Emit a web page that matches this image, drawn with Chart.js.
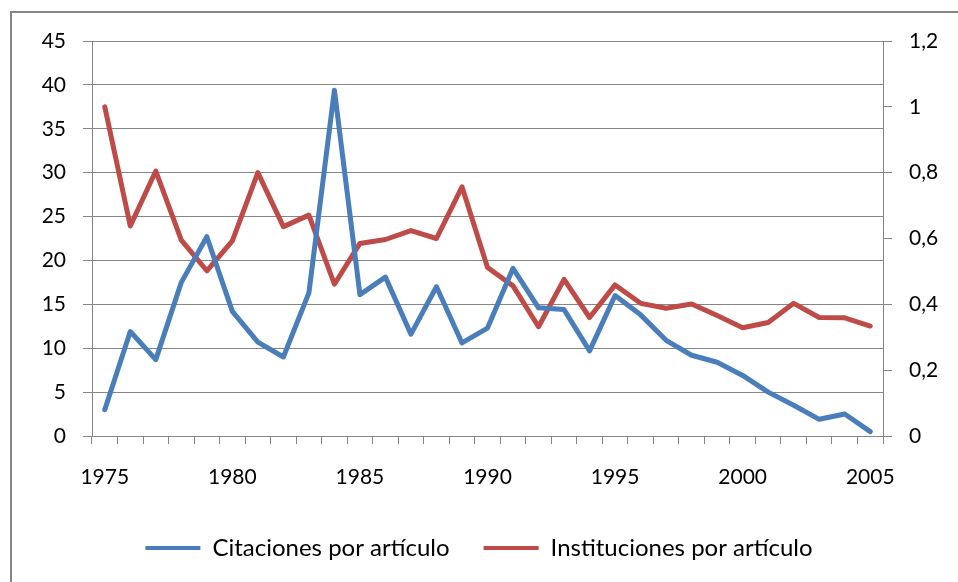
<!DOCTYPE html>
<html>
<head>
<meta charset="utf-8">
<script src="https://cdn.jsdelivr.net/npm/chart.js@4.4.1/dist/chart.umd.min.js"></script>
<style>
  html, body { margin: 0; padding: 0; background: #fff; }
  #wrap { width: 958px; height: 582px; }
</style>
</head>
<body>
<div id="wrap"><canvas id="chart" width="958" height="582"></canvas></div>
<script>
  // ---- DATA ----
  const years = [1975, 1976, 1977, 1978, 1979, 1980, 1981, 1982, 1983, 1984,
                 1985, 1986, 1987, 1988, 1989, 1990, 1991, 1992, 1993, 1994,
                 1995, 1996, 1997, 1998, 1999, 2000, 2001, 2002, 2003, 2004, 2005];
  const citaciones = [3.0, 11.9, 8.7, 17.5, 22.7, 14.2, 10.7, 9.0, 16.3, 39.4,
                      16.1, 18.1, 11.6, 17.0, 10.6, 12.3, 19.1, 14.6, 14.4, 9.7,
                      16.0, 13.8, 10.9, 9.2, 8.4, 6.9, 5.0, 3.5, 1.9, 2.5, 0.5];
  const instituciones = [1.0, 0.638, 0.805, 0.595, 0.502, 0.593, 0.80, 0.636, 0.671, 0.461,
                         0.585, 0.597, 0.624, 0.60, 0.757, 0.512, 0.456, 0.332, 0.476, 0.36,
                         0.459, 0.403, 0.388, 0.401, 0.366, 0.329, 0.345, 0.403, 0.36, 0.359, 0.334];
  const leftTicks = { min: 0, max: 45, step: 5 };
  const rightTicks = { min: 0, max: 1.2, step: 0.2 };

  const BLUE = '#4A7EBB';
  const RED = '#BE4B48';
  const GRID = '#868686';
  const FONT = { family: 'Lato, "Open Sans", sans-serif', size: 21 };
  const LEGEND_FONT = { family: 'Lato, "Open Sans", sans-serif', size: 24 };

  // outer frame (left + top edge only, like the source)
  const framePlugin = {
    id: 'frame',
    afterDraw(chart) {
      const c = chart.ctx;
      c.save();
      c.strokeStyle = GRID;
      c.lineWidth = 2;
      c.beginPath();
      c.moveTo(11, 582);
      c.lineTo(11, 12);
      c.lineTo(958, 12);
      c.stroke();
      c.restore();
    }
  };

  const ctx = document.getElementById('chart').getContext('2d');
  new Chart(ctx, {
    type: 'line',
    data: {
      labels: years,
      datasets: [{
        label: 'Citaciones por artículo',
        data: citaciones,
        yAxisID: 'y',
        borderColor: BLUE,
        backgroundColor: BLUE,
        borderWidth: 5,
        borderJoinStyle: 'round',
        borderCapStyle: 'round',
        pointRadius: 0,
        tension: 0
      }, {
        label: 'Instituciones por artículo',
        data: instituciones,
        yAxisID: 'y2',
        borderColor: RED,
        backgroundColor: RED,
        borderWidth: 5,
        borderJoinStyle: 'round',
        borderCapStyle: 'round',
        pointRadius: 0,
        tension: 0
      }]
    },
    options: {
      responsive: false,
      animation: false,
      layout: { padding: { top: 41, left: 0, right: 0, bottom: 12 } },
      plugins: {
        tooltip: { enabled: false },
        legend: {
          position: 'bottom',
          labels: {
            color: '#000',
            font: LEGEND_FONT,
            boxWidth: 55,
            boxHeight: 4,
            padding: 34,
            generateLabels(chart) {
              return Chart.defaults.plugins.legend.labels.generateLabels(chart)
                .map(l => Object.assign(l, { lineWidth: 0 }));
            }
          }
        }
      },
      scales: {
        x: {
          type: 'category',
          offset: true,
          afterFit(s) { s.height = 66; },
          grid: { offset: true, drawOnChartArea: false, color: GRID, tickLength: 8 },
          border: { color: GRID, width: 1 },
          ticks: {
            autoSkip: false,
            maxRotation: 0,
            color: '#000',
            font: FONT,
            padding: 21,
            callback(v, i) { const y = years[i]; return y % 5 === 0 ? String(y) : ''; }
          }
        },
        y: {
          position: 'left',
          min: leftTicks.min,
          max: leftTicks.max,
          afterFit(s) { s.width = 92; },
          grid: { color: GRID, tickLength: 9 },
          border: { color: GRID, width: 1 },
          ticks: { stepSize: leftTicks.step, color: '#000', font: FONT, padding: 17 }
        },
        y2: {
          position: 'right',
          min: rightTicks.min,
          max: rightTicks.max,
          afterFit(s) { s.width = 75; },
          grid: { drawOnChartArea: false, color: GRID, tickLength: 9 },
          border: { color: GRID, width: 1 },
          ticks: {
            stepSize: rightTicks.step,
            color: '#000',
            font: FONT,
            padding: 17,
            callback(v) { return String(Number(v.toFixed(1))).replace('.', ','); }
          }
        }
      }
    },
    plugins: [framePlugin]
  });
</script>
</body>
</html>
